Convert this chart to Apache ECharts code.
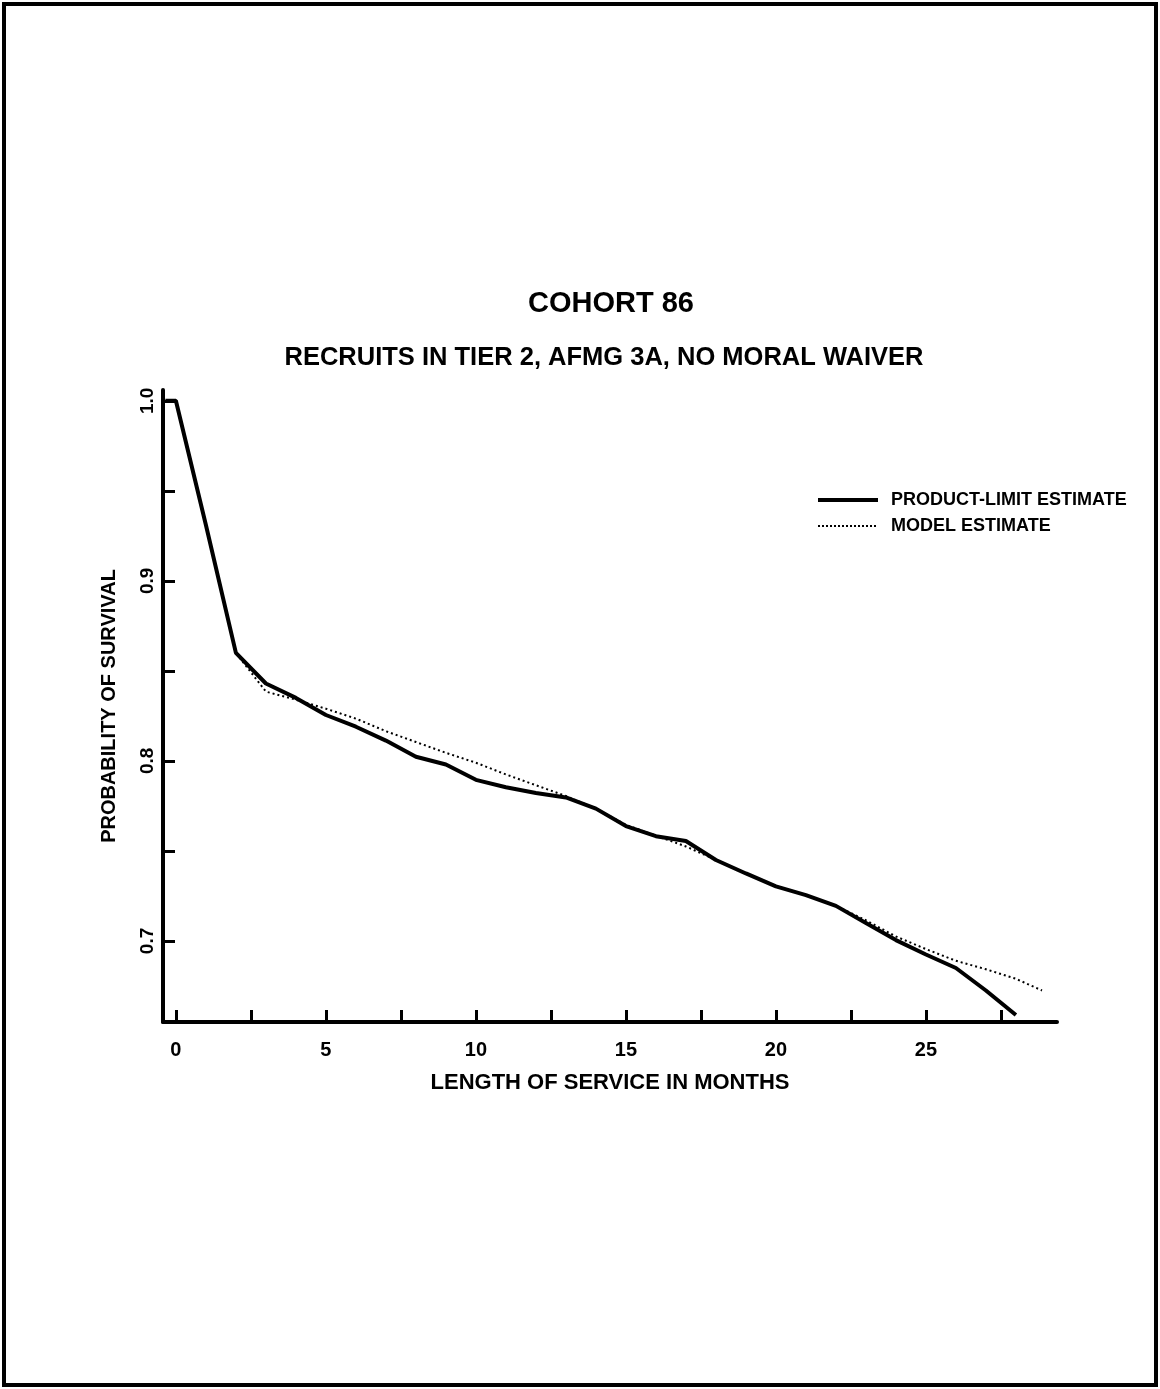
<!DOCTYPE html>
<html>
<head>
<meta charset="utf-8">
<script src="https://cdn.jsdelivr.net/npm/echarts@6/dist/echarts.min.js"></script>
<style>
html,body{margin:0;padding:0;background:#fff;}
#chart{width:1160px;height:1389px;}
</style>
</head>
<body>
<div id="chart"></div>
<script>
// ---- data ----
var plMonths = [-0.35, 0, 1, 2, 3, 4, 5, 6, 7, 8, 9, 10, 11, 12, 13, 14, 15, 16, 17, 18, 19, 20, 21, 22, 23, 24, 25, 26, 27, 28];
var plValues = [1.0, 1.0, 0.931, 0.860, 0.843, 0.835, 0.8255, 0.819, 0.8113, 0.8023, 0.798, 0.7895, 0.7854, 0.7822, 0.7797, 0.7735, 0.7638, 0.7582, 0.7555, 0.745, 0.7375, 0.7303, 0.7255, 0.7195, 0.710, 0.7005, 0.6925, 0.685, 0.6725, 0.6589];
var modelMonths = [0, 1, 2, 3, 4, 5, 6, 7, 8, 9, 10, 11, 12, 13, 14, 15, 16, 17, 18, 19, 20, 21, 22, 23, 24, 25, 26, 27, 28, 28.87];
var modelValues = [1.0, 0.931, 0.860, 0.8385, 0.834, 0.829, 0.8235, 0.8165, 0.8105, 0.8045, 0.799, 0.7925, 0.7865, 0.7805, 0.7735, 0.7645, 0.7585, 0.7525, 0.745, 0.7375, 0.7305, 0.7255, 0.7195, 0.7115, 0.7025, 0.6955, 0.689, 0.6843, 0.679, 0.6725];
var xTicks = [0, 2.5, 5, 7.5, 10, 12.5, 15, 17.5, 20, 22.5, 25, 27.5];
var xLabels = [0, 5, 10, 15, 20, 25];
var yTicks = [0.7, 0.75, 0.8, 0.85, 0.9, 0.95, 1.0];
var yLabels = [0.7, 0.8, 0.9, 1.0];
var seriesNames = ['PRODUCT-LIMIT ESTIMATE', 'MODEL ESTIMATE'];
var titleText = 'COHORT 86';
var subtitleText = 'RECRUITS IN TIER 2, AFMG 3A, NO MORAL WAIVER';

function pairs(xs, ys){ return xs.map(function(x,i){ return [x, ys[i]]; }); }

var FONT = '"Liberation Sans", Arial, sans-serif';
var chart = echarts.init(document.getElementById('chart'), null, {renderer:'canvas'});
chart.setOption({
  backgroundColor: '#fff',
  animation: false,
  title: [
    {text: titleText, left: 606, top: 284, textAlign: 'center',
     textStyle: {fontFamily: FONT, fontWeight: 'bold', fontSize: 29, color: '#000'}},
    {text: subtitleText, left: 599, top: 340, textAlign: 'center',
     textStyle: {fontFamily: FONT, fontWeight: 'bold', fontSize: 25.5, color: '#000'}}
  ],
  legend: {
    orient: 'vertical', left: 811, top: 486, itemWidth: 60, itemHeight: 12, itemGap: 8,
    data: [
      {name: seriesNames[0], lineStyle: {width: 4, color: '#000', type: 'solid'}},
      {name: seriesNames[1], lineStyle: {width: 2, color: '#000', type: [2, 2]}}
    ],
    itemStyle: {opacity: 0},
    textStyle: {fontFamily: FONT, fontWeight: 'bold', fontSize: 18, color: '#000', padding: [0,0,0,8]}
  },
  grid: {left: 163, top: 390, right: 103, bottom: 367, containLabel: false},
  xAxis: {
    type: 'value', min: -0.43, max: 29.37,
    name: 'LENGTH OF SERVICE IN MONTHS', nameLocation: 'middle', nameGap: 50,
    nameTextStyle: {fontFamily: FONT, fontWeight: 'bold', fontSize: 22, color: '#000'},
    axisLine: {show: true, onZero: false, lineStyle: {color: '#000', width: 4}},
    axisTick: {show: true, inside: true, length: 12, lineStyle: {color: '#000', width: 3}, customValues: xTicks},
    axisLabel: {customValues: xLabels, margin: 18, fontFamily: FONT, fontWeight: 'bold', fontSize: 20, color: '#000'},
    splitLine: {show: false}
  },
  yAxis: {
    type: 'value', min: 0.655, max: 1.006,
    name: 'PROBABILITY OF SURVIVAL', nameLocation: 'middle', nameGap: 44, nameRotate: 90,
    nameTextStyle: {fontFamily: FONT, fontWeight: 'bold', fontSize: 20, color: '#000'},
    axisLine: {show: true, onZero: false, lineStyle: {color: '#000', width: 4}},
    axisTick: {show: true, inside: true, length: 12, lineStyle: {color: '#000', width: 3}, customValues: yTicks},
    axisLabel: {customValues: yLabels, rotate: 90, margin: 6, fontFamily: FONT, fontWeight: 'bold', fontSize: 19, color: '#000',
      formatter: function(v){ return v.toFixed(1); }},
    splitLine: {show: false}
  },
  series: [
    {name: seriesNames[0], type: 'line', data: pairs(plMonths, plValues), symbol: 'none', smooth: false,
     lineStyle: {color: '#000', width: 4}, itemStyle: {color: '#000'}, z: 3},
    {name: seriesNames[1], type: 'line', data: pairs(modelMonths, modelValues), symbol: 'none', smooth: false,
     lineStyle: {color: '#000', width: 2, type: [2, 3]}, itemStyle: {color: '#000'}, z: 2}
  ],
  graphic: [
    {type: 'rect', shape: {x: 4, y: 4, width: 1152, height: 1381}, style: {fill: 'none', stroke: '#000', lineWidth: 4}, silent: true}
  ]
});
</script>
</body>
</html>
